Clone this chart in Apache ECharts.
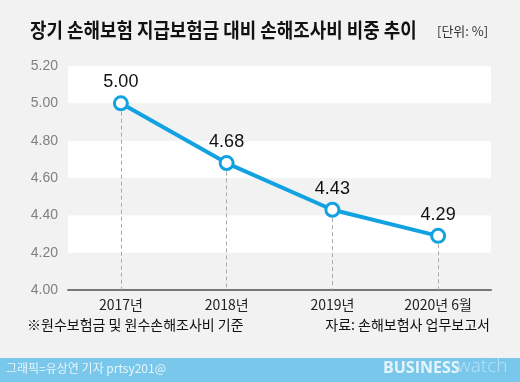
<!DOCTYPE html>
<html><head><meta charset="utf-8">
<script src="https://cdn.jsdelivr.net/npm/echarts@6/dist/echarts.min.js"></script>
<style>html,body{margin:0;padding:0;background:#f2f2f2}#c{width:520px;height:382px}</style>
</head><body><div id="c"></div>
<script>
const categories = ['2017년', '2018년', '2019년', '2020년 6월'];
const values = [5.00, 4.68, 4.43, 4.29];
const yTicks = { min: 4.0, max: 5.2, interval: 0.2 };
const title = '장기 손해보험 지급보험금 대비 손해조사비 비중 추이';
const unit = '[단위: %]';
const note = '※원수보험금 및 원수손해조사비 기준';
const source = '자료: 손해보험사 업무보고서';
const credit = '그래픽=유상연 기자 prtsy201@';

const FONT = '"Noto Sans CJK KR", "Noto Sans", sans-serif';
const chart = echarts.init(document.getElementById('c'));
chart.setOption({
  backgroundColor: '#f2f2f2',
  animation: false,
  grid: { left: 68, right: 29, top: 66, bottom: 92 },
  xAxis: {
    type: 'category', data: categories, boundaryGap: true,
    axisLine: { lineStyle: { color: '#777', width: 2 } },
    axisTick: { show: false },
    axisLabel: { color: '#222', fontSize: 14, fontFamily: FONT, margin: 8 },
    splitLine: { show: false }
  },
  yAxis: {
    type: 'value', min: yTicks.min, max: yTicks.max, interval: yTicks.interval,
    axisLine: { show: false }, axisTick: { show: false },
    axisLabel: { color: '#808080', fontSize: 14, fontFamily: '"Liberation Sans", Arial, sans-serif', margin: 10,
      formatter: v => v.toFixed(2) },
    splitLine: { show: false },
    splitArea: { show: true, areaStyle: { color: ['#f2f2f2', '#ffffff'] } }
  },
  series: [{
    type: 'line', data: values,
    lineStyle: { color: '#12a2e2', width: 4 },
    symbol: 'circle', symbolSize: 13,
    itemStyle: { color: '#ffffff', borderColor: '#12a2e2', borderWidth: 3 },
    label: { show: true, position: 'top', distance: 4, color: '#111', fontSize: 18,
      fontFamily: '"Liberation Sans", Arial, sans-serif', formatter: p => p.value.toFixed(2) },
    z: 5,
    markLine: {
      silent: true, symbol: ['none', 'none'], label: { show: false },
      lineStyle: { color: '#aaa', type: [4, 3], width: 1 },
      data: values.map((v, i) => [{ coord: [i, v - 0.045] }, { coord: [i, yTicks.min] }])
    }
  }],
  graphic: [
    { type: 'text', left: 30, top: 20, scaleX: 0.895, style: { text: title, fill: '#111', fontSize: 20, fontWeight: 'bold', fontFamily: FONT } },
    { type: 'text', left: 437, top: 25, style: { text: unit, fill: '#333', fontSize: 13, fontFamily: FONT } },
    { type: 'text', left: 27, top: 318, style: { text: note, fill: '#111', fontSize: 14, fontFamily: FONT } },
    { type: 'text', right: 30, top: 318, style: { text: source, fill: '#111', fontSize: 14, fontFamily: FONT } },
    { type: 'rect', left: 0, top: 358, shape: { width: 520, height: 24 }, style: { fill: '#79c8ec' } },
    { type: 'text', left: 6, top: 362, style: { text: credit, fill: '#e6f4fb', fontSize: 12, fontFamily: FONT } },
    { type: 'text', left: 383, top: 360, style: { text: 'BUSINESS', fill: '#e6f4fb', fontSize: 16, fontWeight: 'bold', fontFamily: '"Open Sans", sans-serif' } },
    { type: 'text', left: 457, top: 357, style: { text: 'watch', fill: '#b8e2f5', fontSize: 19, fontWeight: 300, fontFamily: '"Open Sans", sans-serif' } }
  ]
});
</script></body></html>
